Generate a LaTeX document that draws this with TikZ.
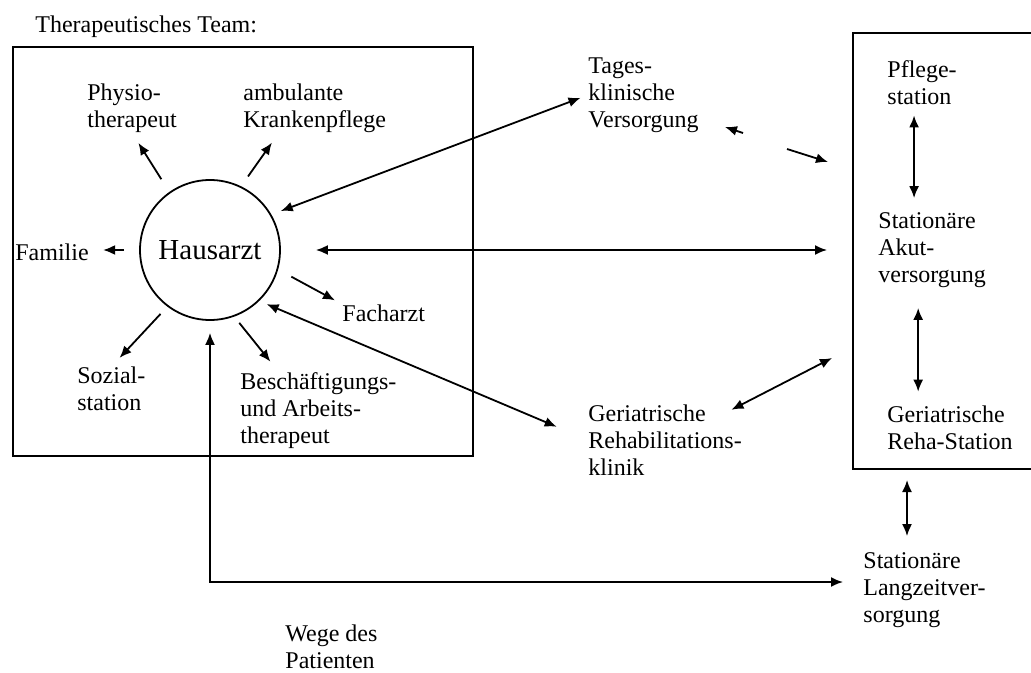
\documentclass[tikz,border=0pt]{standalone}
\usepackage{fontspec}
\setmainfont{Liberation Serif}
\usetikzlibrary{arrows.meta,calc}

\begin{document}
\begin{tikzpicture}[x=0.5pt,y=-0.5pt,
    lbl/.style={inner sep=0pt, align=left, anchor=west, font=\fontsize{12}{13.5}\selectfont},
    arr/.style={-{Latex[length=6pt,width=5pt]}, line width=0.9pt},
    arr2/.style={{Latex[length=6pt,width=5pt]}-{Latex[length=6pt,width=5pt]}, line width=0.9pt}]
    \useasboundingbox (0,0) rectangle (1031,673);

    \node[lbl] (team) at (35,27) {Therapeutisches Team:};
    \draw[line width=1pt] (13,47) rectangle (473,456);
    \node[circle, draw, line width=0.9pt, minimum size=70pt, inner sep=0pt,
          font=\fontsize{14.5}{16}\selectfont] (haus) at (210,250) {Hausarzt};

    \node[lbl] (physio) at (87,108) {Physio-\\therapeut};
    \node[lbl] (ambul) at (243,108) {ambulante\\Krankenpflege};
    \node[lbl] (familie) at (15,252) {Familie};
    \node[lbl] (facharzt) at (342,313) {Facharzt};
    \node[lbl] (sozial) at (77,389) {Sozial-\\station};
    \node[lbl] (besch) at (240,411) {Beschäftigungs-\\und Arbeits-\\therapeut};
    \node[lbl] (tages) at (588,95) {Tages-\\klinische\\Versorgung};
    \node[lbl] (klinik) at (588,440) {Geriatrische\\Rehabilitations-\\klinik};
    \node[lbl] (wege) at (285,647) {Wege des\\Patienten};

    \draw[line width=1pt] (1040,33) -- (853,33) -- (853,469) -- (1040,469);
    \node[lbl] (pflege) at (887,83) {Pflege-\\station};
    \node[lbl] (akut) at (878,250) {Stationäre\\Akut-\\versorgung};
    \node[lbl] (reha) at (887,428) {Geriatrische\\Reha-Station};
    \node[lbl] (langzeit) at (863,590) {Stationäre\\Langzeitver-\\sorgung};

    \coordinate (tv-a) at (725,127);
    \coordinate (tv-b) at (743,133);
    \coordinate (tv-c) at (787,149);
    \coordinate (tv-d) at (828,162);
    \coordinate (rb-akut) at (827,248);
    \coordinate (rb-geri) at (832,358);
    \coordinate (rb-bot) at (907,469);

    \draw[arr, shorten <=7.5pt, shorten >=6pt] (haus.125) -- (physio.south);
    \draw[arr, shorten <=6pt, shorten >=6pt] (haus.64) -- ($(ambul.south west)!.5!(ambul.south)$);
    \draw[arr, shorten <=7.5pt, shorten >=7pt] (haus.west) -- (haus.west -| familie.east);
    \draw[arr, shorten <=7.5pt, shorten >=4pt] (haus.-16) -- (facharzt.north west);
    \draw[arr, shorten <=5pt, shorten >=6pt] (haus.233) -- (sozial.north);
    \draw[arr, shorten <=4pt, shorten >=7pt] (haus.-70) -- ($(besch.north west)!.25!(besch.north east)$);

    \draw[arr2, shorten <=5pt, shorten >=4pt] (haus.30) -- (tages.west);
    \draw[arr2, shorten <=17.5pt] (haus.east) -- (haus.east -| rb-akut);
    \draw[arr2, shorten <=4pt, shorten >=17pt] (haus.-46) -- (klinik.west);
    \draw[arr2, shorten <=6pt, shorten >=10pt] (haus.south) |- ([yshift=4pt]langzeit.west);

    \draw[arr] (tv-b) -- (tv-a);
    \draw[arr] (tv-c) -- (tv-d);
    \draw[arr2, shorten <=-6pt] (klinik.north east) -- (rb-geri);

    \draw[arr2, shorten <=5pt, shorten >=7pt] ([xshift=-4pt]pflege.south) -- ([xshift=-4pt]pflege.south |- akut.north);
    \draw[arr2, shorten <=10pt, shorten >=7pt] ([xshift=-7pt]akut.south) -- ([xshift=-7pt]akut.south |- reha.north);
    \draw[arr2, shorten <=5.5pt, shorten >=8pt] (rb-bot) -- (rb-bot |- langzeit.north);
\end{tikzpicture}
\end{document}
